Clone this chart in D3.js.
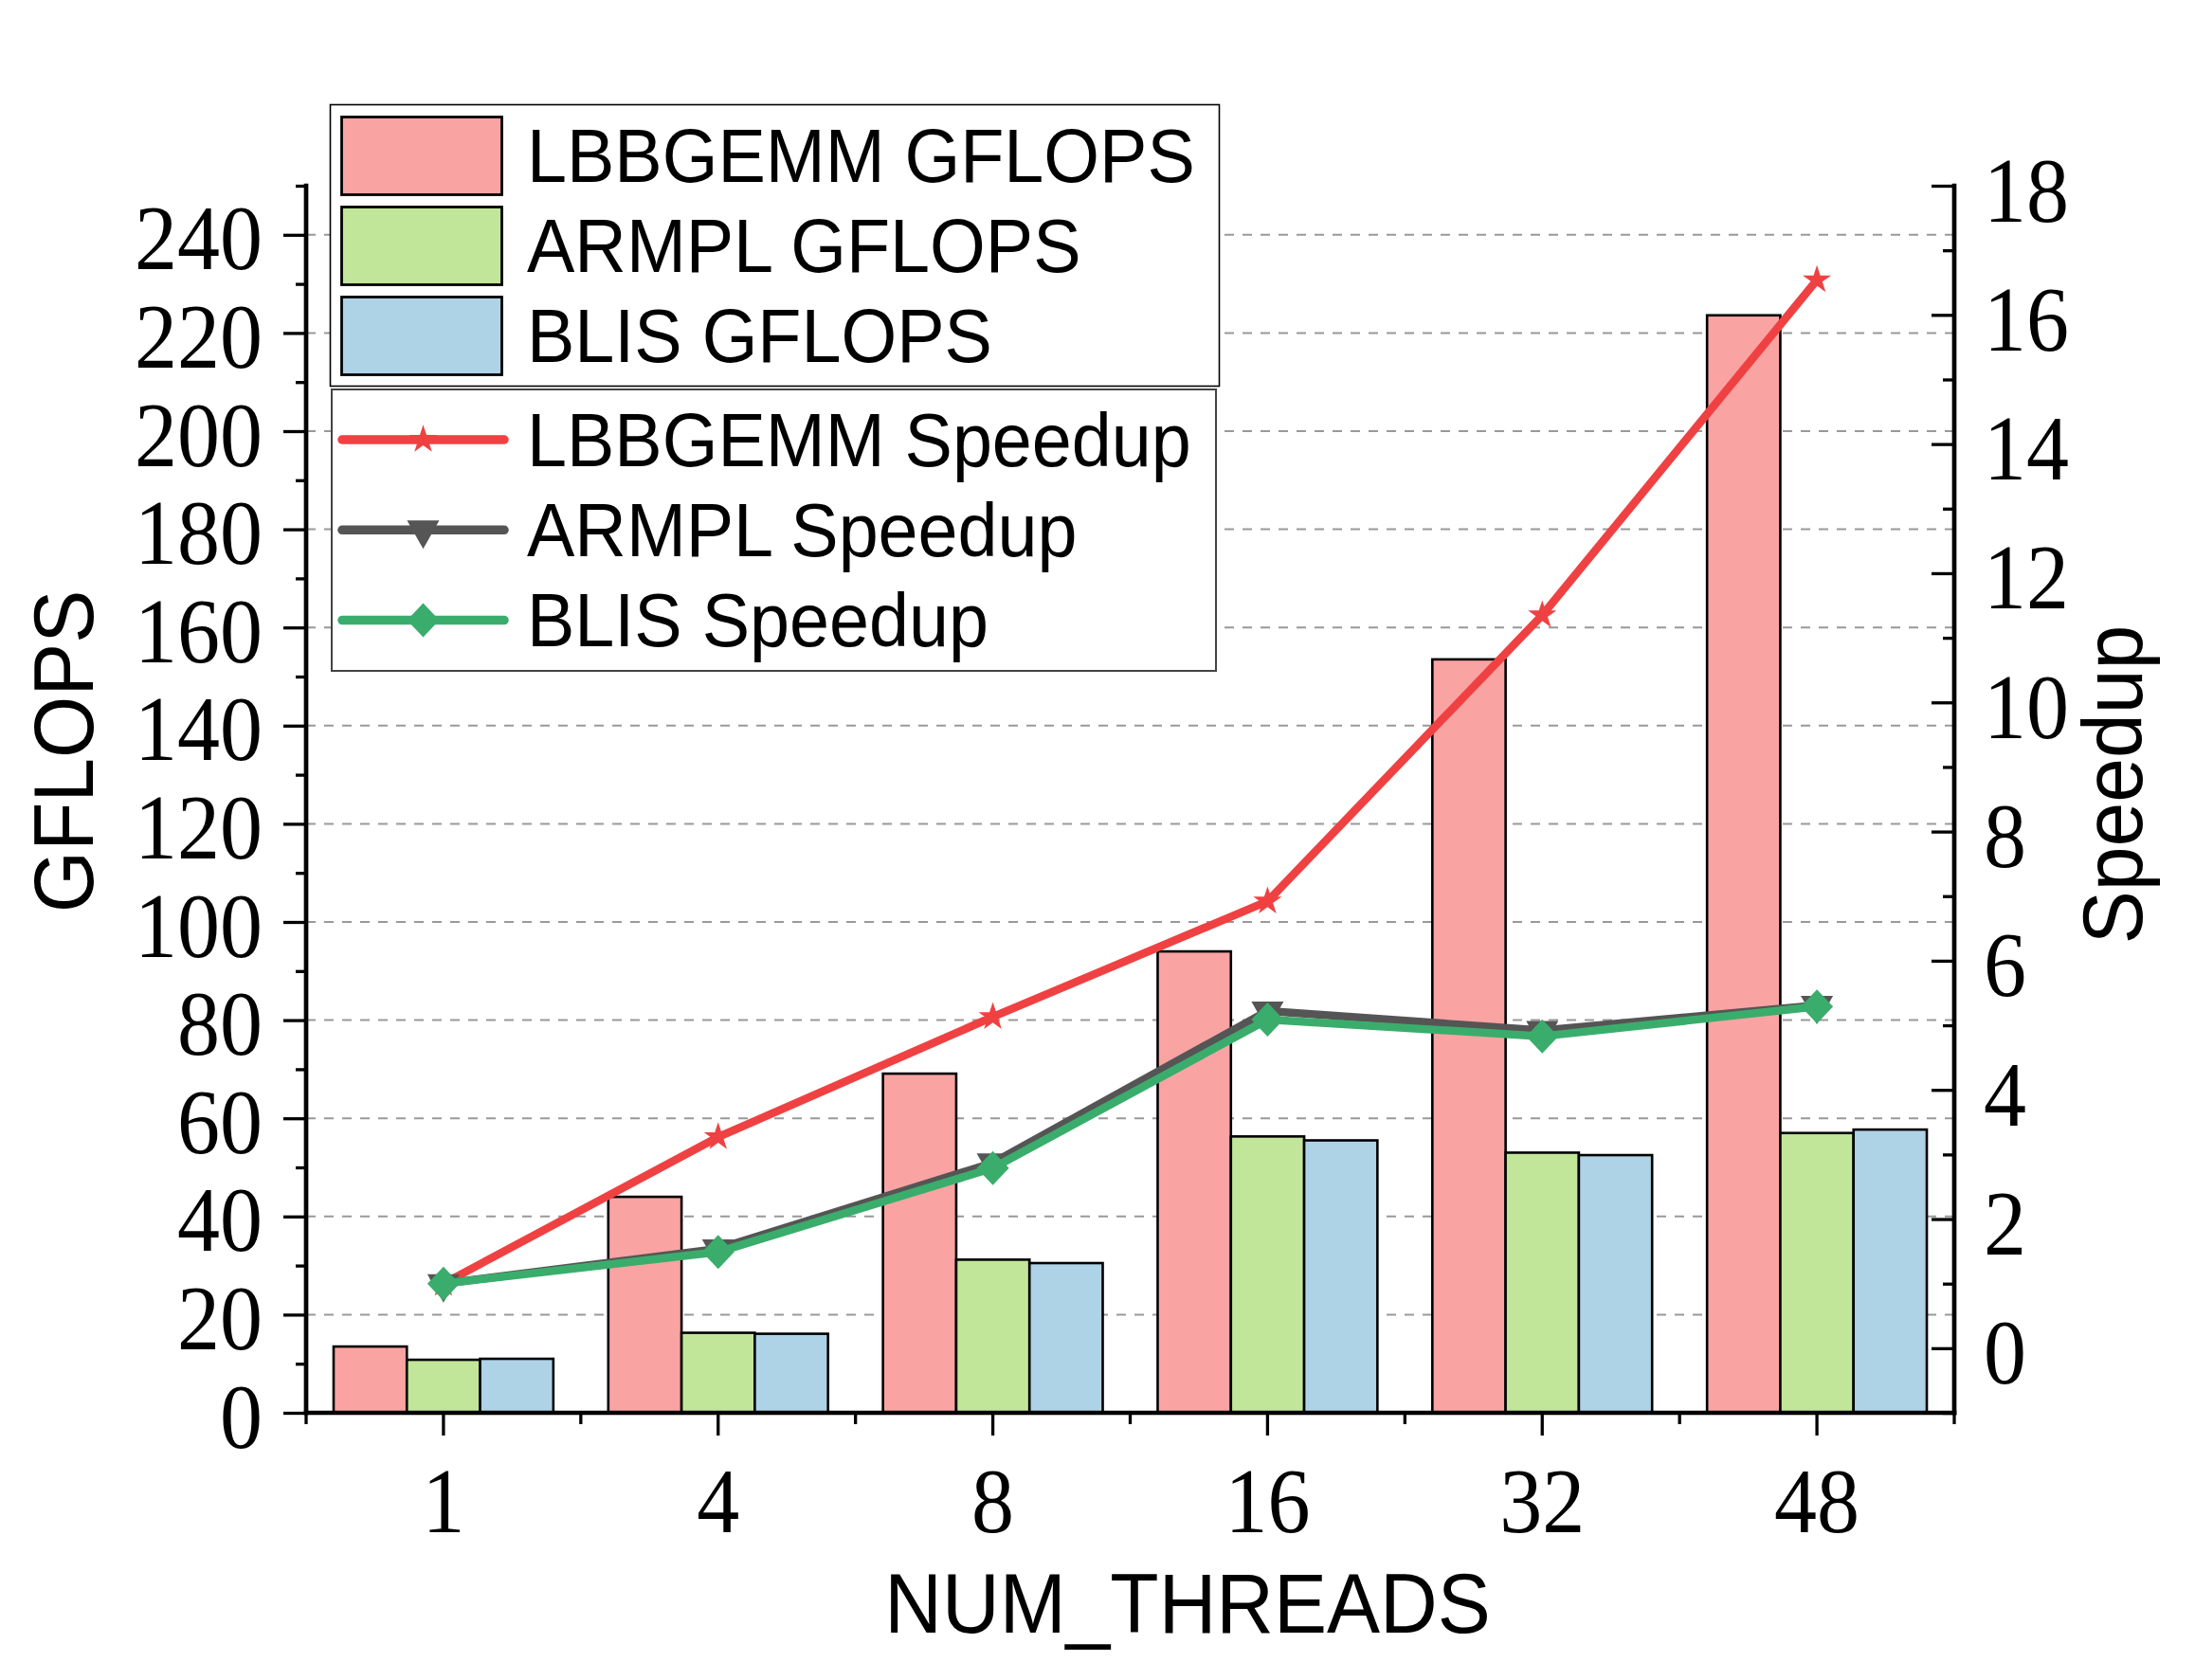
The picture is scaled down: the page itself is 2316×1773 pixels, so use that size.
<!doctype html>
<html lang="en">
<head>
    <meta charset="utf-8">
    <script src="https://d3js.org/d3.v7.min.js"></script>
    <title>GFLOPS and Speedup</title>
    <style>
        body { margin: 0; background: #fff; }
        .tick text { font-family: "Liberation Serif", "Times New Roman", serif; }
    </style>
</head>
<body>
    <svg id="svg1"></svg>

    <script>
        // values
        const threads = ["1", "4", "8", "16", "32", "48"];
        const lbbGflops   = [13.5, 44.0, 69.1, 94.0, 153.5, 223.6];
        const armplGflops = [10.8, 16.3, 31.2, 56.3, 53.0, 57.0];
        const blisGflops  = [11.0, 16.1, 30.5, 55.5, 52.5, 57.7];
        const lbbSpeedup   = [1.0, 3.27, 5.13, 6.92, 11.35, 16.54];
        const armplSpeedup = [1.0, 1.54, 2.87, 5.22, 4.92, 5.31];
        const blisSpeedup  = [1.0, 1.49, 2.79, 5.09, 4.83, 5.29];
        const gflopsTicks  = [0, 20, 40, 60, 80, 100, 120, 140, 160, 180, 200, 220, 240];
        const speedupTicks = [0, 2, 4, 6, 8, 10, 12, 14, 16, 18];
        const barNames  = ["LBBGEMM GFLOPS", "ARMPL GFLOPS", "BLIS GFLOPS"];
        const lineNames = ["LBBGEMM Speedup", "ARMPL Speedup", "BLIS Speedup"];

        let width = 2316, height = 1773;
        let plot = { left: 323, right: 2062, top: 196, bottom: 1491 };
        let barColors  = ["#faa3a3", "#c1e69a", "#aed2e6"];
        let lineColors = ["#f04142", "#555555", "#3aad6c"];

        let svg, xBand, xSub, yLeft, yRight;

        // marker shapes
        const starPath = d3.symbol(d3.symbolStar, 280)();
        const triPath  = "M-17,-10L17,-10L0,20Z";
        const diaPath  = "M0,-18L17,0L0,18L-17,0Z";
        const markers  = [starPath, triPath, diaPath];

        function initialize() {
            svg = d3.select("#svg1")
                .attr("width", width)
                .attr("height", height)
                .style("background", "#fff");

            xBand = d3.scaleBand().domain(threads)
                .range([plot.left, plot.right])
                .paddingInner(0.2).paddingOuter(0.1);
            xSub = d3.scaleBand().domain([0, 1, 2]).range([0, xBand.bandwidth()]);
            yLeft  = d3.scaleLinear().domain([0, 250]).range([plot.bottom, plot.top]);
            yRight = d3.scaleLinear().domain([-1, 18]).range([plot.bottom, plot.top]);
        }

        function styleTicks(g, w) {
            g.select(".domain").remove();
            g.selectAll(".tick line").attr("stroke", "#000").attr("stroke-width", w);
        }

        // serif tick numbers, a bit taller than the plain font
        function styleNumbers(sel, tr, anchor) {
            sel.attr("x", null).attr("y", null).attr("dy", null)
                .attr("text-anchor", anchor)
                .attr("transform", tr)
                .attr("font-size", 90).attr("fill", "#000")
                .attr("font-family", "Liberation Serif, serif");
        }

        function draw() {
            // grid lines
            svg.append("g")
                .selectAll("line")
                .data(gflopsTicks.filter(d => d > 0))
                .join("line")
                .attr("x1", plot.left).attr("x2", plot.right)
                .attr("y1", d => yLeft(d)).attr("y2", d => yLeft(d))
                .attr("stroke", "#999").attr("stroke-width", 2)
                .attr("stroke-dasharray", "10,9");

            // bars
            let series = [lbbGflops, armplGflops, blisGflops];
            let barData = [];
            threads.forEach((t, i) => series.forEach((s, k) => barData.push({ t: t, k: k, v: s[i] })));
            svg.append("g")
                .selectAll("rect")
                .data(barData)
                .join("rect")
                .attr("x", d => xBand(d.t) + xSub(d.k))
                .attr("y", d => yLeft(d.v))
                .attr("width", xSub.bandwidth())
                .attr("height", d => yLeft(0) - yLeft(d.v))
                .attr("fill", d => barColors[d.k])
                .attr("stroke", "#000").attr("stroke-width", 2.6);

            // speedup lines
            let cx = t => xBand(t) + xBand.bandwidth() / 2;
            let line = d3.line().x((v, i) => cx(threads[i])).y(v => yRight(v));
            [lbbSpeedup, armplSpeedup, blisSpeedup].forEach((s, k) => {
                let g = svg.append("g");
                g.append("path")
                    .attr("d", line(s))
                    .attr("fill", "none")
                    .attr("stroke", lineColors[k])
                    .attr("stroke-width", 8.5)
                    .attr("stroke-linejoin", "round");
                g.selectAll("path.mk")
                    .data(s)
                    .join("path")
                    .attr("class", "mk")
                    .attr("d", markers[k])
                    .attr("transform", (v, i) => `translate(${cx(threads[i])},${yRight(v)})`)
                    .attr("fill", lineColors[k]);
            });

            // left axis
            let gl = svg.append("g").attr("transform", `translate(${plot.left},0)`);
            gl.append("g").call(d3.axisLeft(yLeft).tickValues(d3.range(10, 251, 20)).tickSize(11).tickFormat(""))
                .call(styleTicks, 3.3);
            gl.append("g").call(d3.axisLeft(yLeft).tickValues(gflopsTicks).tickSize(24))
                .call(styleTicks, 3.3)
                .selectAll(".tick text")
                .call(styleNumbers, "translate(-46,36) scale(1,1.08)", "end");

            // right axis, ticks pointing inward
            let gr = svg.append("g").attr("transform", `translate(${plot.right},0)`);
            gr.append("g").call(d3.axisRight(yRight).tickValues(d3.range(-1, 18, 2)).tickSize(-12).tickFormat(""))
                .call(styleTicks, 3.3);
            gr.append("g").call(d3.axisRight(yRight).tickValues(speedupTicks).tickSize(-24))
                .call(styleTicks, 3.3)
                .selectAll(".tick text")
                .call(styleNumbers, "translate(31,37) scale(1,1.08)", "start");

            // bottom axis: major ticks at group centres, minor at group borders
            let gb = svg.append("g").attr("transform", `translate(0,${plot.bottom})`);
            gb.append("g").call(d3.axisBottom(xBand).tickSize(24))
                .call(styleTicks, 3.3)
                .selectAll(".tick text")
                .call(styleNumbers, "translate(0,126) scale(1,1.08)", "middle");
            gb.append("g")
                .selectAll("line")
                .data(d3.range(threads.length + 1))
                .join("line")
                .attr("x1", k => xBand.range()[0] + k * xBand.step())
                .attr("x2", k => xBand.range()[0] + k * xBand.step())
                .attr("y1", 0).attr("y2", 12)
                .attr("stroke", "#000").attr("stroke-width", 3.3);

            // axis lines
            let frame = [
                [plot.left, plot.top, plot.left, plot.bottom],
                [plot.right, plot.top, plot.right, plot.bottom],
                [plot.left, plot.bottom, plot.right, plot.bottom]
            ];
            svg.append("g")
                .selectAll("line")
                .data(frame)
                .join("line")
                .attr("x1", d => d[0]).attr("y1", d => d[1])
                .attr("x2", d => d[2]).attr("y2", d => d[3])
                .attr("stroke", "#000").attr("stroke-width", 4.7)
                .attr("stroke-linecap", "square");

            // axis titles
            let title = (txt, tr) => svg.append("text")
                .text(txt)
                .attr("transform", tr)
                .attr("text-anchor", "middle")
                .attr("font-family", "Liberation Sans, Arial, sans-serif")
                .attr("font-size", 84)
                .attr("fill", "#000");
            title("NUM_THREADS", "translate(1253,1723) scale(1,1.06)");
            title("GFLOPS", "translate(98,793) rotate(-90) scale(1,1.06)");
            title("Speedup", "translate(2260,828) rotate(-90) scale(1,1.06)");

            drawLegend();
        }

        function drawLegend() {
            let textX = 556;
            let fontOf = sel => sel
                .attr("font-family", "Liberation Sans, Arial, sans-serif")
                .attr("font-size", 75.5)
                .attr("fill", "#000");

            // box for the bar series
            svg.append("rect")
                .attr("x", 348.5).attr("y", 110.5)
                .attr("width", 938).attr("height", 297)
                .attr("fill", "#fff").attr("stroke", "#000").attr("stroke-width", 1.6);
            let lb = svg.append("g");
            barNames.forEach((name, k) => {
                let top = 123.5 + k * 95;
                lb.append("rect")
                    .attr("x", 360.5).attr("y", top)
                    .attr("width", 169).attr("height", 82)
                    .attr("fill", barColors[k])
                    .attr("stroke", "#000").attr("stroke-width", 2.8);
                lb.append("text")
                    .text(name)
                    .attr("transform", `translate(${textX},${192 + k * 95}) scale(1,1.05)`)
                    .call(fontOf);
            });

            // box for the line series
            svg.append("rect")
                .attr("x", 350).attr("y", 411)
                .attr("width", 933).attr("height", 297)
                .attr("fill", "#fff").attr("stroke", "#444").attr("stroke-width", 2);
            let ll = svg.append("g");
            lineNames.forEach((name, k) => {
                let y = 464 + k * 95.3;
                ll.append("line")
                    .attr("x1", 361).attr("x2", 532)
                    .attr("y1", y).attr("y2", y)
                    .attr("stroke", lineColors[k])
                    .attr("stroke-width", 9.5)
                    .attr("stroke-linecap", "round");
                ll.append("path")
                    .attr("d", markers[k])
                    .attr("transform", `translate(446.5,${y})`)
                    .attr("fill", lineColors[k]);
                ll.append("text")
                    .text(name)
                    .attr("transform", `translate(${textX},${491.5 + k * 95.2}) scale(1,1.05)`)
                    .call(fontOf);
            });
        }

        initialize();
        draw();
    </script>
</body>
</html>
